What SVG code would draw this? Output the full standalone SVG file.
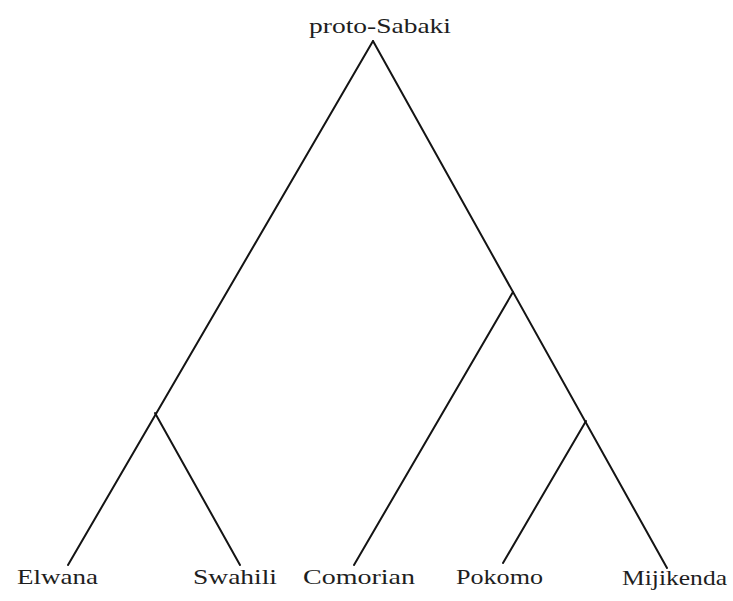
<svg xmlns="http://www.w3.org/2000/svg" width="733" height="601" viewBox="0 0 733 601">
  <style>
    .edge { stroke: #141414; stroke-width: 2; fill: none; stroke-linecap: round; }
    .label { font-family: "Liberation Serif", "Times New Roman", serif; font-size: 21px; fill: #1e1e1e; }
  </style>
  <rect width="733" height="601" fill="#ffffff"/>

  <!-- branches of the tree -->
  <g id="connectors">
    <line class="edge" x1="373" y1="41" x2="68" y2="565"/>
    <line class="edge" x1="373" y1="41" x2="667" y2="568"/>
    <line class="edge" x1="155" y1="413" x2="240" y2="565"/>
    <line class="edge" x1="513" y1="292" x2="354" y2="565"/>
    <line class="edge" x1="586" y1="421" x2="503" y2="563"/>
  </g>

  <g id="proto-sabaki">
    <text class="label" x="309" y="33" textLength="142" lengthAdjust="spacingAndGlyphs">proto-Sabaki</text>
  </g>
  <g id="elwana">
    <text class="label" x="17" y="584" textLength="81" lengthAdjust="spacingAndGlyphs">Elwana</text>
  </g>
  <g id="swahili">
    <text class="label" x="193" y="584" textLength="84" lengthAdjust="spacingAndGlyphs">Swahili</text>
  </g>
  <g id="comorian">
    <text class="label" x="303" y="584" textLength="112" lengthAdjust="spacingAndGlyphs">Comorian</text>
  </g>
  <g id="pokomo">
    <text class="label" x="456" y="584" textLength="87" lengthAdjust="spacingAndGlyphs">Pokomo</text>
  </g>
  <g id="mijikenda">
    <text class="label" x="622" y="585" textLength="105" lengthAdjust="spacingAndGlyphs">Mijikenda</text>
  </g>
</svg>
